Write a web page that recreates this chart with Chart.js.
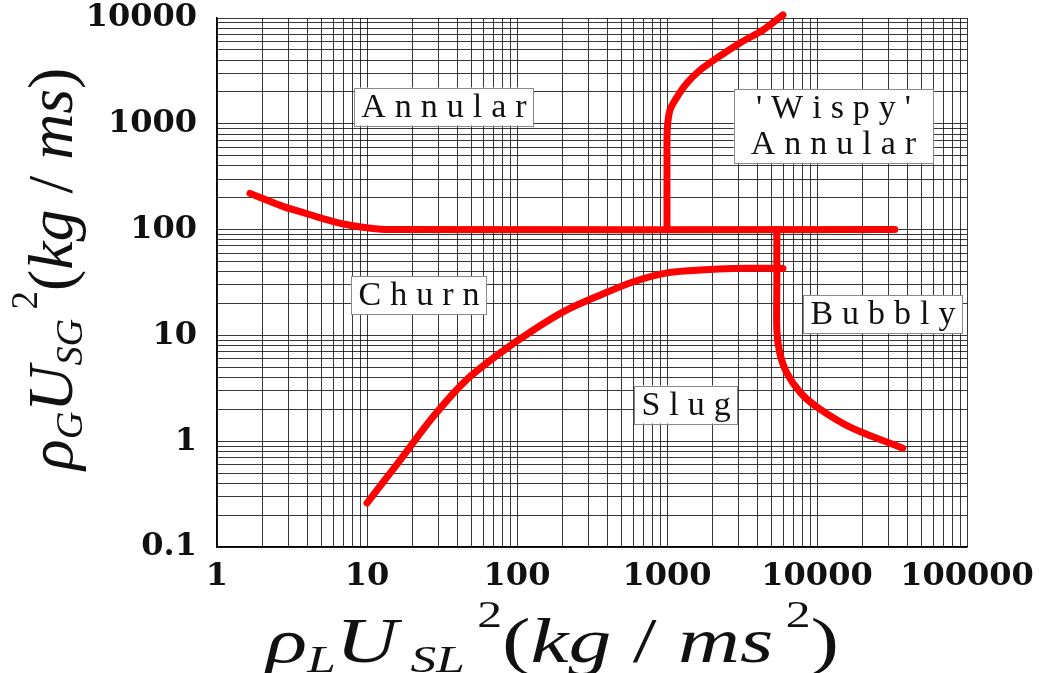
<!DOCTYPE html>
<html>
<head>
<meta charset="utf-8">
<script src="https://cdn.jsdelivr.net/npm/chart.js@4/dist/chart.umd.min.js"></script>
<style>
html,body{margin:0;padding:0;background:#fff;}
#wrap{position:relative;width:1046px;height:673px;overflow:hidden;}
#c{position:absolute;left:0;top:0;}
.ttl{position:absolute;left:0;top:0;font-family:"Liberation Serif","Times New Roman",serif;font-size:64px;line-height:1;white-space:nowrap;color:#111;transform-origin:0 0;}
.it{font-style:italic;}
.sb{font-size:0.6em;position:relative;top:0.27em;}
.sp{font-size:0.58em;position:relative;top:-0.95em;}
.bl{display:inline-block;width:0;height:0;}
</style>
</head>
<body>
<div id="wrap">
<canvas id="c" width="1046" height="673"></canvas>
<div id="xt" class="ttl"><span class="it">ρ</span><span class="sb it">L</span><span class="it">U</span><span class="sb it"> SL</span><span class="sp"> 2</span>(<span class="it">kg</span> / <span class="it">ms</span><span class="sp"> 2</span>)<span class="bl"></span></div>
<div id="yt" class="ttl"><span class="it">ρ</span><span class="sb it">G</span><span class="it">U</span><span class="sb it">SG</span><span class="sp"> 2</span>(<span class="it">kg</span> / <span class="it">ms</span>)<span class="bl"></span></div>
</div>
<script>
// ---- data ----
const xTickValues = [1, 10, 100, 1000, 10000, 100000];
const xTickLabels = ['1', '10', '100', '1000', '10000', '100000'];
const yTickValues = [0.1, 1, 10, 100, 1000, 10000];
const yTickLabels = ['0.1', '1', '10', '100', '1000', '10000'];

// Annular / Churn boundary
const annularChurnX = [1.66, 2.14, 2.77, 3.57, 4.63, 5.97, 7.7, 10, 14, 33000];
const annularChurnY = [220, 190, 165, 148, 132, 119, 110, 104, 100, 100];
// Annular / 'Wispy' Annular boundary
const wispyX = [1000, 1000, 1005, 1047, 1166, 1360, 1660, 2154, 3067, 4365, 5930];
const wispyY = [100, 500, 900, 1349, 1791, 2430, 3220, 4190, 5810, 7710, 10700];
// Churn / Slug boundary
const slugX = [10, 16.6, 27.5, 46, 77, 128, 215, 357, 592, 1000, 1660, 2750, 5930];
const slugY = [0.26, 0.66, 1.69, 3.8, 6.8, 11.2, 17.4, 24, 32, 39, 41.5, 43, 43];
// Slug / Bubbly boundary
const bubblyX = [5400, 5400, 5400, 5650, 6300, 7770, 10000, 16600, 37300];
const bubblyY = [100, 30, 11.2, 6.8, 4.4, 2.86, 2.1, 1.36, 0.86];

// Region labels (box centres, data coordinates)
const regionNames = [["Annular"], ["'Wispy'", "Annular"], ["Churn"], ["Bubbly"], ["Slug"]];
const regionX = [32.6, 12880, 22.2, 27540, 1340];
const regionY = [1456, 953, 24.1, 15.8, 2.22];

// ---- helpers ----
function pts(xs, ys) { return xs.map((v, i) => ({ x: v, y: ys[i] })); }
function logTicks(min, max) {
  const out = [];
  for (let e = Math.round(Math.log10(min)); e < Math.round(Math.log10(max)); e++) {
    for (let m = 1; m <= 9; m++) out.push(+(m * Math.pow(10, e)).toPrecision(3));
  }
  out.push(max);
  return out;
}
function labelFor(values, labels) {
  return function (v) {
    for (let i = 0; i < values.length; i++) if (Math.abs(v - values[i]) / values[i] < 1e-6) return labels[i];
    return '';
  };
}
const RED = '#ff0000';
function lineDs(data) {
  return { data, showLine: true, borderColor: RED, backgroundColor: RED, borderWidth: 7,
    pointRadius: 0, tension: 0.3, borderCapStyle: 'round', borderJoinStyle: 'round', clip: 10 };
}
// style: horizontal padding of each label box
const regionPad = [7, 17, 7, 7, 7];
const regionPlugin = {
  id: 'regions',
  afterDatasetsDraw(chart) {
    const { ctx } = chart;
    const xs = chart.scales.x, ys = chart.scales.y;
    const LS = 9, LH = 36;
    regionNames.forEach((lines, i) => {
      const cx = xs.getPixelForValue(regionX[i]);
      const cy = ys.getPixelForValue(regionY[i]);
      ctx.save();
      ctx.font = '34px "Liberation Serif", serif';
      const widths = lines.map(t => { let w = 0; for (const ch of t) w += ctx.measureText(ch).width; return w + LS * (t.length - 1); });
      const bw = Math.max(...widths) + 2 * regionPad[i];
      const bh = lines.length * LH + 2;
      const bx = cx - bw / 2, by = cy - bh / 2;
      ctx.fillStyle = '#ffffff'; ctx.fillRect(bx, by, bw, bh);
      ctx.strokeStyle = '#8a8a8a'; ctx.lineWidth = 1;
      ctx.strokeRect(Math.round(bx) + 0.5, Math.round(by) + 0.5, Math.round(bw), Math.round(bh));
      ctx.fillStyle = '#111'; ctx.textBaseline = 'alphabetic'; ctx.textAlign = 'left';
      lines.forEach((t, j) => {
        let x = cx - widths[j] / 2; const y = by + 29 + j * LH;
        for (const ch of t) { ctx.fillText(ch, x, y); x += ctx.measureText(ch).width + LS; }
      });
      ctx.restore();
    });
  }
};
const tickFont = { family: '"DejaVu Serif", serif', size: 32, weight: 'bold' };
const gridOpts = { color: 'rgba(0,0,0,0.78)', lineWidth: 1, drawTicks: false };
new Chart(document.getElementById('c'), {
  type: 'scatter',
  data: { datasets: [ lineDs(pts(annularChurnX, annularChurnY)), lineDs(pts(wispyX, wispyY)), lineDs(pts(slugX, slugY)), lineDs(pts(bubblyX, bubblyY)) ] },
  options: {
    responsive: false, animation: false, devicePixelRatio: 1,
    layout: { padding: { left: 0, right: 79, top: 18, bottom: 0 } },
    plugins: { legend: { display: false }, tooltip: { enabled: false } },
    scales: {
      x: { type: 'logarithmic', min: 1, max: 100000, border: { display: true, color: '#000', width: 1.5 }, grid: gridOpts,
        afterBuildTicks(s) { s.ticks = logTicks(1, 100000).map(v => ({ value: v })); },
        ticks: { autoSkip: false, maxRotation: 0, minRotation: 0, padding: 10, color: '#111', font: tickFont, callback: labelFor(xTickValues, xTickLabels) },
        afterFit(s) { s.height = 126; s.paddingLeft = 0; s.paddingRight = 0; } },
      y: { type: 'logarithmic', min: 0.1, max: 10000, border: { display: true, color: '#000', width: 1.5 }, grid: gridOpts,
        afterBuildTicks(s) { s.ticks = logTicks(0.1, 10000).map(v => ({ value: v })); },
        ticks: { autoSkip: false, padding: 20, color: '#111', font: tickFont, callback: labelFor(yTickValues, yTickLabels) },
        afterFit(s) { s.width = 217; s.paddingTop = 0; s.paddingBottom = 0; } }
    }
  },
  plugins: [regionPlugin]
});
// ---- axis titles (HTML text with sub/superscripts) ----
function baselineOf(el) { return el.querySelector('.bl').offsetTop; }
(function () {
  const xt = document.getElementById('xt'); const xb = baselineOf(xt); const xs = 573 / xt.offsetWidth;
  xt.style.transform = `translate(266px, ${662 - xb}px) scaleX(${xs})`;
  const yt = document.getElementById('yt'); const yb = baselineOf(yt); const ys = 402 / yt.offsetWidth;
  yt.style.transform = `translate(${72 - yb}px, 470px) rotate(-90deg) scaleX(${ys})`;
})();
</script>
</body>
</html>
